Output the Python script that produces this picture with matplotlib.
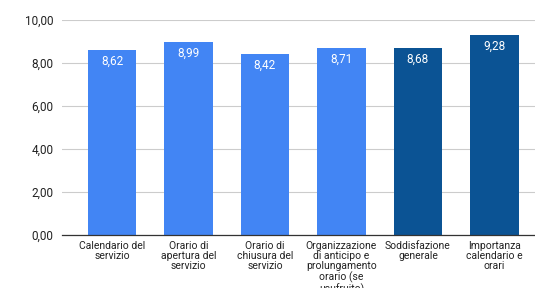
import matplotlib
matplotlib.use("Agg")
import matplotlib.pyplot as plt
from matplotlib.ticker import FuncFormatter

categories = ["Calendario del\nservizio", "Orario di\napertura del\nservizio",
              "Orario di\nchiusura del\nservizio",
              "Organizzazione\ndi anticipo e\nprolungamento\norario (se\nusufruito)",
              "Soddisfazione\ngenerale", "Importanza\ncalendario e\norari"]
values = [8.62, 8.99, 8.42, 8.71, 8.68, 9.28]
colors = ["#4285F4", "#4285F4", "#4285F4", "#4285F4", "#0B5394", "#0B5394"]
yticks = [0, 2, 4, 6, 8, 10]

plt.rcParams['font.family'] = ['Roboto', 'DejaVu Sans']
fig = plt.figure(figsize=(5.35, 2.88), dpi=100)
ax = fig.add_axes([62/535, 53/288, 473/535, 215/288])
x = list(range(len(values)))
bars = ax.bar(x, values, width=0.63, color=colors, zorder=3)
for xi, v in zip(x, values):
    ax.text(xi, v - 0.22, f"{v:.2f}".replace('.', ','), ha='center', va='top',
            color='white', fontsize=8.5, zorder=4)
ax.set_xlim(-0.654, 5.53)
ax.set_ylim(0, 10)
ax.set_yticks(yticks)
ax.yaxis.set_major_formatter(FuncFormatter(lambda v, p: f"{v:.2f}".replace('.', ',')))
ax.grid(axis='y', color='#cccccc', linewidth=0.8, zorder=0)
for s in ['top', 'right', 'left']:
    ax.spines[s].set_visible(False)
ax.spines['bottom'].set_color('#333333')
ax.spines['bottom'].set_linewidth(0.9)
ax.spines['bottom'].set_zorder(5)
ax.set_xticks(x)
ax.set_xticklabels(categories, fontsize=7.5, linespacing=1.05, color='#222222')
ax.tick_params(axis='x', length=0, pad=4)
ax.tick_params(axis='y', length=0, labelsize=8.5, colors='#222222', pad=6)
fig.savefig("out.png", dpi=100)
